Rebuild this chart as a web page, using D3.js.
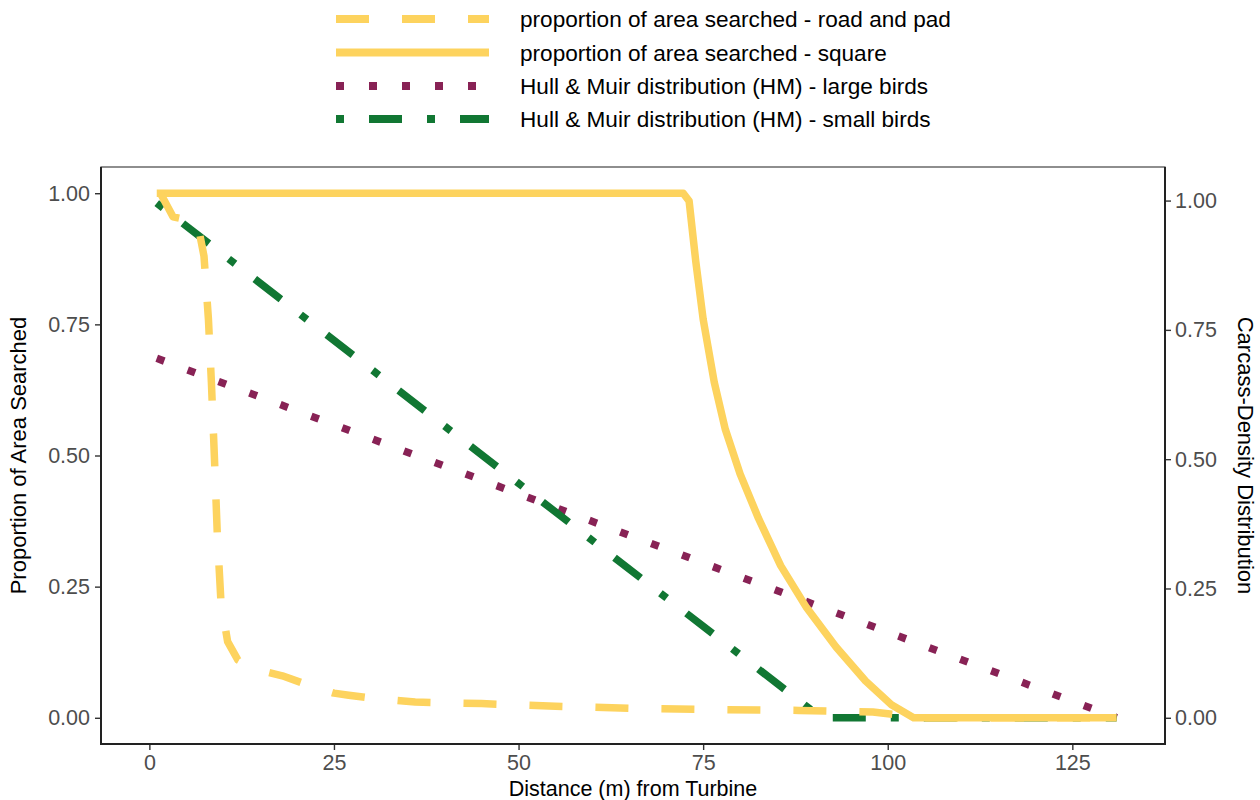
<!DOCTYPE html>
<html>
<head>
<meta charset="utf-8">
<title>Proportion of area searched</title>
<script src="https://cdn.jsdelivr.net/npm/d3@7"></script>
<style>
	body { margin: 0; background: #fff; }
	text { font-family: "Liberation Sans", Arial, sans-serif; }
</style>
<script type="text/javascript">
	// values
	var xTicks = [0, 25, 50, 75, 100, 125];
	var yTicks = [0, 0.25, 0.5, 0.75, 1];

	// proportion of area searched - road and pad (left axis)
	var distRoad = [1.5, 3.2, 6.5, 7.4, 8.0, 8.4, 8.8, 9.2, 9.7, 10.6, 12, 14, 18, 22, 25, 27, 31, 36, 45, 55, 65, 75, 88, 98, 103, 105, 131];
	var propRoad = [1.0, 0.955, 0.945, 0.88, 0.76, 0.64, 0.5, 0.35, 0.22, 0.145, 0.11, 0.094, 0.08, 0.06, 0.047, 0.043, 0.036, 0.03, 0.027, 0.022, 0.018, 0.016, 0.014, 0.011, 0.003, 0, 0];

	// proportion of area searched - square (left axis)
	var distSquare = [1, 72.3, 73.1, 74, 75, 76.5, 78, 80, 82.5, 85.5, 89, 93, 97, 100.5, 103.5, 131];
	var propSquare = [1, 1, 0.985, 0.87, 0.76, 0.64, 0.55, 0.465, 0.38, 0.29, 0.21, 0.135, 0.07, 0.025, 0, 0];

	// Hull & Muir distributions (right axis)
	var distLarge = [1, 131];
	var densLarge = [0.695, 0];
	var distSmall = [1, 91, 131];
	var densSmall = [0.995, 0, 0];

	var legendLabels = [
		"proportion of area searched - road and pad",
		"proportion of area searched - square",
		"Hull & Muir distribution (HM) - large birds",
		"Hull & Muir distribution (HM) - small birds"
	];
</script>
</head>

<body>
<div id="chart"></div>
<script type="text/javascript">
	var width = 1260, height = 800;
	var margin = {top: 167, right: 95, bottom: 56, left: 101};
	var yellow = "#FDD35E", wine = "#882255", green = "#117733";
	var lineW = 7.5;
	var rightTop = 0.986; // left-axis value where the right axis reads 1.00

	var styles = [
		{color: yellow, dash: "33,33"},
		{color: yellow, dash: null},
		{color: wine, dash: "8,25"},
		{color: green, dash: "8,25,33,25"}
	];

	var svg = d3.select("#chart").append("svg")
		.attr("width", width)
		.attr("height", height);

	var x = d3.scaleLinear().domain([-6.55, 137.55]).range([margin.left, width - margin.right]);
	var y = d3.scaleLinear().domain([-0.05, 1.05]).range([height - margin.bottom, margin.top]);
	var y2 = d3.scaleLinear().domain([0, 1]).range([y(0), y(rightTop)]);

	function zip(a, b) { return a.map(function(d, i) { return [d, b[i]]; }); }

	var lineLeft = d3.line().x(function(d) { return x(d[0]); }).y(function(d) { return y(d[1]); });
	var lineRight = d3.line().x(function(d) { return x(d[0]); }).y(function(d) { return y2(d[1]); });

	// axes
	var tickFont = "21.5px";
	var gx = svg.append("g").attr("transform", "translate(0," + (height - margin.bottom) + ")")
		.call(d3.axisBottom(x).tickValues(xTicks).tickSize(6).tickPadding(5));
	var gy = svg.append("g").attr("transform", "translate(" + margin.left + ",0)")
		.call(d3.axisLeft(y).tickValues(yTicks).tickFormat(d3.format(".2f")).tickSize(6).tickPadding(5));
	var gy2 = svg.append("g").attr("transform", "translate(" + (width - margin.right) + ",0)")
		.call(d3.axisRight(y2).tickValues(yTicks).tickFormat(d3.format(".2f")).tickSize(6).tickPadding(4));
	[gx, gy, gy2].forEach(function(g) {
		g.select(".domain").remove();
		g.selectAll(".tick line").attr("stroke", "#333").attr("stroke-width", 1.4);
		g.selectAll(".tick text").attr("fill", "#4D4D4D").style("font-size", tickFont)
			.style("font-family", "'Liberation Sans', Arial, sans-serif");
	});

	// series, HM first so the yellow lines sit on top
	var plot = svg.append("g");
	plot.append("path").datum(zip(distLarge, densLarge)).attr("d", lineRight)
		.attr("fill", "none").attr("stroke", styles[2].color).attr("stroke-width", lineW)
		.attr("stroke-dasharray", styles[2].dash);
	plot.append("path").datum(zip(distSmall, densSmall)).attr("d", lineRight)
		.attr("fill", "none").attr("stroke", styles[3].color).attr("stroke-width", lineW)
		.attr("stroke-dasharray", styles[3].dash);
	plot.append("path").datum(zip(distSquare, propSquare)).attr("d", lineLeft)
		.attr("fill", "none").attr("stroke", styles[1].color).attr("stroke-width", lineW)
		.attr("stroke-linejoin", "round");
	plot.append("path").datum(zip(distRoad, propRoad)).attr("d", lineLeft)
		.attr("fill", "none").attr("stroke", styles[0].color).attr("stroke-width", lineW)
		.attr("stroke-linejoin", "round").attr("stroke-dasharray", styles[0].dash);

	// panel border
	svg.append("rect")
		.attr("x", margin.left).attr("y", margin.top)
		.attr("width", width - margin.left - margin.right)
		.attr("height", height - margin.top - margin.bottom)
		.attr("fill", "none").attr("stroke", "#444").attr("stroke-width", 1.2);
	svg.append("path")
		.attr("d", "M" + margin.left + "," + margin.top + "V" + (height - margin.bottom) +
			"H" + (width - margin.right) + "V" + margin.top)
		.attr("fill", "none").attr("stroke", "#222").attr("stroke-width", 2);

	// axis titles
	svg.append("text")
		.attr("transform", "translate(" + (width / 2 + 3) + ",795.5)")
		.attr("text-anchor", "middle").style("font-size", "21.5px").attr("fill", "#000")
		.text("Distance (m) from Turbine");
	svg.append("text")
		.attr("transform", "translate(26," + y(0.5) + ") rotate(-90)")
		.attr("text-anchor", "middle").style("font-size", "22px").attr("fill", "#000")
		.text("Proportion of Area Searched");
	svg.append("text")
		.attr("transform", "translate(1238," + y(0.5) + ") rotate(90)")
		.attr("text-anchor", "middle").style("font-size", "22px").attr("fill", "#000")
		.text("Carcass-Density Distribution");

	// legend
	var rowY = [19, 52.5, 86, 119];
	var legend = svg.append("g");
	legendLabels.forEach(function(lab, i) {
		legend.append("line")
			.attr("x1", 336).attr("x2", 489).attr("y1", rowY[i]).attr("y2", rowY[i])
			.attr("stroke", styles[i].color).attr("stroke-width", 8)
			.attr("stroke-dasharray", styles[i].dash);
		legend.append("text")
			.attr("x", 520).attr("y", rowY[i]).attr("dy", "0.36em")
			.style("font-size", "22.6px").attr("fill", "#000")
			.text(lab);
	});
</script>
</body>
</html>
